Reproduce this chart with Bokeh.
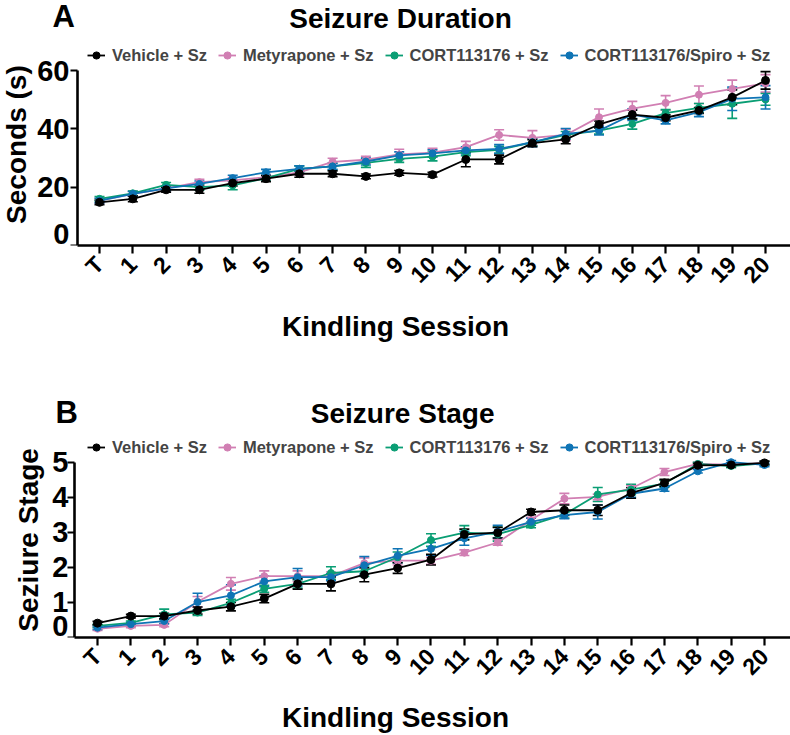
import math
from bokeh.plotting import figure
from bokeh.models import (ColumnDataSource, Range1d, FixedTicker, Legend, LegendItem,
                          Label, LabelSet, Whisker, TeeHead)
from bokeh.core.properties import value
from bokeh.layouts import column
from bokeh.embed import file_html
from bokeh.resources import INLINE

sessions = list(range(21))
session_labels = ["T"] + [str(i) for i in range(1, 21)]

groups = ["Vehicle + Sz", "Metyrapone + Sz", "CORT113176 + Sz", "CORT113176/Spiro + Sz"]
colors = ["#000000", "#D17FB3", "#0A9E74", "#0F74B5"]

dur_ticks = [0, 20, 40, 60]
dur_tick_labels = ["0", "20", "40", "60"]
stg_ticks = [0, 1, 2, 3, 4, 5]
stg_tick_labels = ["0", "1", "2", "3", "4", "5"]

# Seizure duration (s), mean and SEM
dur_vehicle = [14.8, 16.0, 19.1, 19.1, 21.4, 22.9, 24.6, 24.6, 23.7, 24.9, 24.3,
               29.5, 29.5, 35.1, 36.4, 41.5, 44.9, 43.8, 46.3, 50.8, 56.6]
dur_vehicle_err = [0.8, 1.0, 0.8, 1.2, 1.0, 1.0, 1.2, 1.0, 0.8, 0.8, 0.8,
                   2.5, 1.5, 1.2, 1.5, 1.2, 1.5, 1.0, 1.0, 2.5, 3.0]
dur_mety = [15.4, 17.7, 19.6, 21.7, 22.3, 23.4, 25.1, 28.7, 29.4, 31.2, 31.8,
            33.7, 37.9, 36.9, 37.9, 44.0, 46.9, 48.9, 51.7, 53.7, 55.6]
dur_mety_err = [0.8, 0.8, 0.8, 1.0, 1.0, 1.0, 1.0, 1.2, 1.2, 1.8, 1.5,
                2.0, 1.8, 2.5, 2.0, 2.8, 2.5, 2.5, 3.0, 3.0, 3.0]
dur_cort = [16.0, 17.9, 20.8, 20.0, 20.6, 23.1, 26.3, 27.1, 28.3, 29.7, 30.5,
            32.0, 32.8, 35.4, 37.9, 39.4, 41.7, 45.4, 47.2, 48.6, 50.1]
dur_cort_err = [0.8, 0.8, 0.8, 1.0, 1.5, 1.0, 1.0, 1.2, 1.5, 1.2, 1.5,
                1.2, 1.2, 1.2, 1.2, 1.2, 1.8, 1.2, 1.5, 5.0, 2.0]
dur_spiro = [15.4, 17.7, 19.6, 21.1, 23.1, 25.1, 26.3, 27.1, 28.8, 30.9, 31.6,
             32.6, 33.1, 35.4, 38.3, 39.4, 44.9, 42.9, 45.7, 50.3, 50.8]
dur_spiro_err = [0.8, 0.8, 0.8, 1.0, 1.0, 1.0, 1.0, 1.0, 1.2, 1.2, 1.2,
                 1.2, 1.5, 1.5, 1.8, 1.5, 2.0, 1.2, 1.5, 4.0, 4.0]

# Seizure stage, mean and SEM
stg_vehicle = [0.41, 0.61, 0.61, 0.77, 0.88, 1.11, 1.53, 1.53, 1.79, 1.98, 2.22,
               2.94, 2.99, 3.58, 3.63, 3.63, 4.12, 4.41, 4.91, 4.92, 4.98]
stg_vehicle_err = [0.05, 0.05, 0.08, 0.10, 0.12, 0.12, 0.15, 0.20, 0.20, 0.15, 0.15,
                   0.15, 0.15, 0.08, 0.15, 0.15, 0.15, 0.10, 0.05, 0.05, 0.05]
stg_mety = [0.25, 0.33, 0.36, 1.02, 1.53, 1.75, 1.75, 1.75, 2.12, 2.19, 2.19,
            2.42, 2.71, 3.35, 3.96, 4.01, 4.25, 4.72, 4.95, 4.93, 4.97]
stg_mety_err = [0.05, 0.05, 0.05, 0.15, 0.18, 0.15, 0.15, 0.12, 0.15, 0.12, 0.10,
                0.08, 0.08, 0.08, 0.15, 0.08, 0.08, 0.10, 0.05, 0.05, 0.05]
stg_cort = [0.33, 0.42, 0.66, 0.71, 0.99, 1.39, 1.53, 1.84, 1.89, 2.29, 2.78,
            2.99, 2.95, 3.21, 3.51, 4.08, 4.22, 4.39, 4.95, 4.89, 4.97]
stg_cort_err = [0.05, 0.05, 0.15, 0.08, 0.10, 0.10, 0.12, 0.18, 0.15, 0.15, 0.18,
                0.20, 0.20, 0.08, 0.10, 0.20, 0.15, 0.10, 0.05, 0.05, 0.05]
stg_spiro = [0.28, 0.38, 0.47, 1.01, 1.20, 1.60, 1.72, 1.72, 2.06, 2.33, 2.53,
             2.83, 3.02, 3.30, 3.49, 3.58, 4.10, 4.25, 4.74, 5.00, 4.92]
stg_spiro_err = [0.05, 0.05, 0.08, 0.25, 0.30, 0.15, 0.25, 0.10, 0.25, 0.20, 0.18,
                 0.20, 0.18, 0.10, 0.10, 0.20, 0.10, 0.08, 0.05, 0.05, 0.05]

FONT = "Liberation Sans"


def make_panel(letter, title, ylabel, yticks, ytick_labels, series, c):
    p = figure(width=790, height=c["height"], output_backend="svg",
               toolbar_location=None,
               x_range=Range1d(c["x_start"], c["x_end"]),
               y_range=Range1d(0, c["y_end"]),
               min_border_left=0, min_border_right=0, min_border_top=0,
               min_border_bottom=c["border_bottom"])
    p.outline_line_color = None
    p.xgrid.visible = False
    p.ygrid.visible = False
    p.background_fill_color = None
    p.border_fill_color = None

    # x axis at the bottom of the frame (y = 0), starting at the y axis
    xa = p.xaxis[0]
    xa.bounds = (c["x_axis_at"], c["x_end"])
    xa.ticker = FixedTicker(ticks=sessions)
    xa.major_label_overrides = {s: lab for s, lab in zip(sessions, session_labels)}
    xa.major_label_orientation = math.pi / 4
    xa.major_label_text_font = FONT
    xa.major_label_text_font_style = "bold"
    xa.major_label_text_font_size = "23px"
    xa.major_label_text_color = "black"
    xa.major_label_standoff = 7
    xa.axis_line_width = 2.6
    xa.major_tick_line_width = 2.2
    xa.major_tick_out = 8
    xa.major_tick_in = 0
    xa.minor_tick_line_color = None
    xa.axis_label = "Kindling Session"
    xa.axis_label_text_font = FONT
    xa.axis_label_text_font_style = "bold"
    xa.axis_label_text_font_size = "28px"
    xa.axis_label_text_color = "black"
    xa.axis_label_standoff = c["xlabel_standoff"]

    # y axis: line and ticks at a fixed x location, numbers drawn as text
    ya = p.yaxis[0]
    ya.fixed_location = c["x_axis_at"]
    ya.bounds = (0, yticks[-1])
    ya.ticker = FixedTicker(ticks=yticks)
    ya.major_label_overrides = {t: "" for t in yticks}
    ya.major_label_text_font_size = "1px"
    ya.major_label_standoff = 0
    ya.axis_line_width = 2.6
    ya.major_tick_line_width = 2.2
    ya.major_tick_out = 0
    ya.major_tick_in = -7
    ya.minor_tick_line_color = None

    ysrc = ColumnDataSource(dict(x=[c["x_axis_at"]] * (len(yticks) - 1), y=yticks[1:],
                                 text=ytick_labels[1:]))
    p.add_layout(LabelSet(x="x", y="y", text="text", source=ysrc,
                          x_offset=c["ylab_offset"], text_align="right",
                          text_baseline="middle", text_font=value(FONT),
                          text_font_style="bold", text_font_size="29px",
                          text_color="black"))
    # the bottom number is lifted to sit just above the frame edge so it is not cut
    p.add_layout(Label(x=c["x_axis_at"], y=yticks[0] + c["zero_lift"],
                       text=ytick_labels[0], x_offset=c["ylab_offset"],
                       text_align="right", text_baseline="middle", text_font=FONT,
                       text_font_style="bold", text_font_size="29px",
                       text_color="black"))
    p.add_layout(Label(x=c["ytitle_xy"][0], y=c["ytitle_xy"][1], text=ylabel,
                       angle=math.pi / 2, text_align="center", text_baseline="top",
                       text_font=FONT, text_font_style="bold", text_font_size="28px",
                       text_color="black"))

    draw_order = [1, 2, 3, 0]
    renderers = {}
    for i in draw_order:
        mean, err = series[i]
        src = ColumnDataSource(dict(
            x=sessions, y=mean,
            lo=[m - e for m, e in zip(mean, err)],
            hi=[m + e for m, e in zip(mean, err)]))
        w = Whisker(base="x", upper="hi", lower="lo", source=src,
                    line_color=colors[i], line_width=1.6,
                    upper_head=TeeHead(size=10, line_color=colors[i], line_width=1.6),
                    lower_head=TeeHead(size=10, line_color=colors[i], line_width=1.6))
        p.add_layout(w)
        ln = p.line("x", "y", source=src, line_color=colors[i], line_width=1.8)
        sc = p.scatter("x", "y", source=src, marker="circle",
                       size=(8 if i == 0 else 7), fill_color=colors[i],
                       line_color=colors[i])
        renderers[i] = [ln, sc]
    items = [LegendItem(label=groups[i], renderers=renderers[i]) for i in range(4)]

    leg = Legend(items=items, orientation="horizontal", location=c["legend_xy"],
                 border_line_color=None, background_fill_alpha=0,
                 padding=0, margin=0, spacing=11, glyph_width=18, glyph_height=20,
                 label_standoff=7, label_text_font=FONT, label_text_font_style="bold",
                 label_text_font_size="16.5px", label_height=20)
    p.add_layout(leg)

    p.add_layout(Label(x=c["letter_xy"][0], y=c["letter_xy"][1], text=letter,
                       text_font=FONT, text_font_style="bold", text_font_size="31px",
                       text_color="black", text_baseline="middle"))
    p.add_layout(Label(x=c["title_xy"][0], y=c["title_xy"][1], text=title,
                       text_font=FONT, text_font_style="bold", text_font_size="28px",
                       text_color="black", text_align="center",
                       text_baseline="middle"))
    return p


top = make_panel(
    "A", "Seizure Duration", "Seconds (s)", dur_ticks, dur_tick_labels,
    [(dur_vehicle, dur_vehicle_err), (dur_mety, dur_mety_err),
     (dur_cort, dur_cort_err), (dur_spiro, dur_spiro_err)],
    dict(height=390, border_bottom=145, x_start=-2.973, x_end=20.75,
         y_end=84.0, x_axis_at=-0.661, xlabel_standoff=11, ylab_offset=-8,
         zero_lift=3.9,
         ytitle_xy=(-2.96, 34.6), letter_xy=(-1.41, 78.5), title_xy=(9.04, 77.8),
         legend_xy=(87, 180)))

bottom = make_panel(
    "B", "Seizure Stage", "Seziure Stage", stg_ticks, stg_tick_labels,
    [(stg_vehicle, stg_vehicle_err), (stg_mety, stg_mety_err),
     (stg_cort, stg_cort_err), (stg_spiro, stg_spiro_err)],
    dict(height=345, border_bottom=97, x_start=-2.909, x_end=20.78,
         y_end=7.045, x_axis_at=-0.69, xlabel_standoff=10, ylab_offset=-6,
         zero_lift=0.325,
         ytitle_xy=(-2.549, 2.784), letter_xy=(-1.26, 6.42), title_xy=(9.15, 6.39),
         legend_xy=(87, 180)))

layout = column(top, bottom, spacing=0)
open("out.html", "w").write(file_html(layout, INLINE))
